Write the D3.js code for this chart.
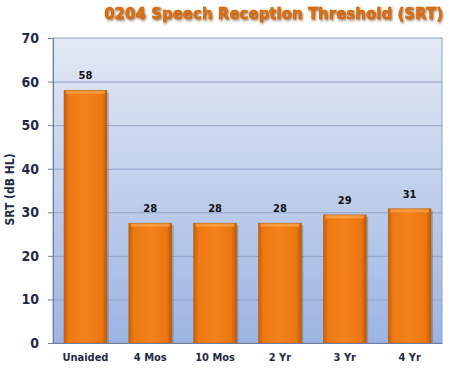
<!DOCTYPE html>
<html>
<head>
<meta charset="utf-8">
<script src="https://cdn.jsdelivr.net/npm/d3@7"></script>
<style>
  body { margin: 0; background: #fff; }
  svg { display: block; }
</style>
</head>
<body>
<script>
const categories = ['Unaided', '4 Mos', '10 Mos', '2 Yr', '3 Yr', '4 Yr'];
const srtValues = [58, 27.5, 27.5, 27.5, 29.4, 30.8];
const valueLabels = ['58', '28', '28', '28', '29', '31'];
const yTicks = [0, 10, 20, 30, 40, 50, 60, 70];

const width = 450;
const height = 371;
const margin = { top: 38, right: 8, bottom: 28, left: 53 };
const plotW = width - margin.left - margin.right;
const plotH = height - margin.top - margin.bottom;
const font = 'DejaVu Sans Condensed, DejaVu Sans';

const svg = d3.select('body').append('svg')
  .attr('width', width)
  .attr('height', height);

const defs = svg.append('defs');
const bg = defs.append('linearGradient').attr('id', 'bg')
  .attr('x1', 0).attr('y1', 0).attr('x2', 0).attr('y2', 1);
bg.append('stop').attr('offset', '0%').attr('stop-color', '#e3e9f4');
bg.append('stop').attr('offset', '100%').attr('stop-color', '#9db4e2');

const barGrad = defs.append('linearGradient').attr('id', 'bar')
  .attr('x1', 0).attr('y1', 0).attr('x2', 1).attr('y2', 0);
barGrad.append('stop').attr('offset', '0%').attr('stop-color', '#c4600c');
barGrad.append('stop').attr('offset', '12%').attr('stop-color', '#ef7a12');
barGrad.append('stop').attr('offset', '50%').attr('stop-color', '#f4811a');
barGrad.append('stop').attr('offset', '88%').attr('stop-color', '#ec7710');
barGrad.append('stop').attr('offset', '100%').attr('stop-color', '#b8590b');

const shadow = defs.append('filter').attr('id', 'tshadow')
  .attr('x', '-5%').attr('y', '-20%').attr('width', '110%').attr('height', '150%');
shadow.append('feDropShadow').attr('dx', 1).attr('dy', 1.5)
  .attr('stdDeviation', 0.8).attr('flood-color', '#6a3c14').attr('flood-opacity', 0.7);

// title
svg.append('text')
  .attr('x', 443).attr('y', 19)
  .attr('text-anchor', 'end')
  .attr('font-family', 'DejaVu Sans')
  .attr('font-weight', 'bold')
  .attr('font-size', 15)
  .attr('fill', '#e0700c')
  .attr('stroke', '#b85a08').attr('stroke-width', 0.4)
  .attr('filter', 'url(#tshadow)')
  .text('0204 Speech Reception Threshold (SRT)');

const chartGroup = svg.append('g')
  .attr('transform', `translate(${margin.left}, ${margin.top})`);

const x = d3.scaleBand()
  .domain(categories)
  .range([0, plotW])
  .paddingInner(0.34)
  .paddingOuter(0.17);

const y = d3.scaleLinear()
  .domain([0, 70])
  .range([plotH, 0]);

chartGroup.append('rect')
  .attr('width', plotW).attr('height', plotH)
  .attr('fill', 'url(#bg)')
  .attr('stroke', '#8ea2c8').attr('stroke-width', 1);

// gridlines
chartGroup.append('g')
  .selectAll('line')
  .data(yTicks.filter(t => t > 0 && t < 70))
  .enter().append('line')
    .attr('x1', 0).attr('x2', plotW)
    .attr('y1', d => y(d) + 0.5).attr('y2', d => y(d) + 0.5)
    .attr('stroke', '#8fa3c9').attr('stroke-width', 1);

// bars
const bars = chartGroup.append('g').selectAll('g')
  .data(categories)
  .enter().append('g');

bars.append('rect')
  .attr('x', d => x(d) + 2)
  .attr('y', (d, i) => y(srtValues[i]) + 2)
  .attr('width', x.bandwidth())
  .attr('height', (d, i) => plotH - y(srtValues[i]) - 2)
  .attr('fill', '#6d4a3a')
  .attr('opacity', 0.35);

bars.append('rect')
  .attr('x', d => x(d))
  .attr('y', (d, i) => y(srtValues[i]))
  .attr('width', x.bandwidth())
  .attr('height', (d, i) => plotH - y(srtValues[i]))
  .attr('fill', 'url(#bar)')
  .attr('stroke', '#b8600f').attr('stroke-width', 0.6);

bars.append('rect')
  .attr('x', d => x(d) + 2)
  .attr('y', (d, i) => y(srtValues[i]) + 0.5)
  .attr('width', x.bandwidth() - 4)
  .attr('height', 3)
  .attr('fill', '#f9a04a')
  .attr('opacity', 0.8);

// value labels
bars.append('text')
  .attr('x', d => x(d) + x.bandwidth() / 2)
  .attr('y', (d, i) => y(srtValues[i]) - 11)
  .attr('text-anchor', 'middle')
  .attr('font-family', font)
  .attr('font-stretch', 'condensed')
  .attr('font-weight', 'bold')
  .attr('font-size', 11)
  .attr('fill', '#111')
  .text((d, i) => valueLabels[i]);

// y axis
const yAxis = d3.axisLeft(y).tickValues(yTicks).tickSize(5).tickPadding(9);
const yG = chartGroup.append('g').call(yAxis);
yG.select('.domain').attr('stroke', '#6f7f9f');
yG.selectAll('.tick line').attr('stroke', '#6f7f9f');
yG.selectAll('.tick text')
  .attr('font-family', font)
  .attr('font-stretch', 'condensed')
  .attr('font-weight', 'bold')
  .attr('font-size', 14)
  .attr('fill', '#1f2a48');

// x axis
const xAxis = d3.axisBottom(x).tickSize(0).tickPadding(10);
const xG = chartGroup.append('g')
  .attr('transform', `translate(0, ${plotH})`)
  .call(xAxis);
xG.select('.domain').attr('stroke', '#6f7f9f');
xG.selectAll('.tick text')
  .attr('font-family', font)
  .attr('font-stretch', 'condensed')
  .attr('font-weight', 'bold')
  .attr('font-size', 11)
  .attr('fill', '#1f2a48');

// y axis title
svg.append('text')
  .attr('text-anchor', 'middle')
  .attr('transform', `translate(14, ${margin.top + plotH / 2 - 1}) rotate(-90)`)
  .attr('font-family', font)
  .attr('font-stretch', 'condensed')
  .attr('font-weight', 'bold')
  .attr('font-size', 12)
  .attr('fill', '#1f2a48')
  .text('SRT (dB HL)');
</script>
</body>
</html>
